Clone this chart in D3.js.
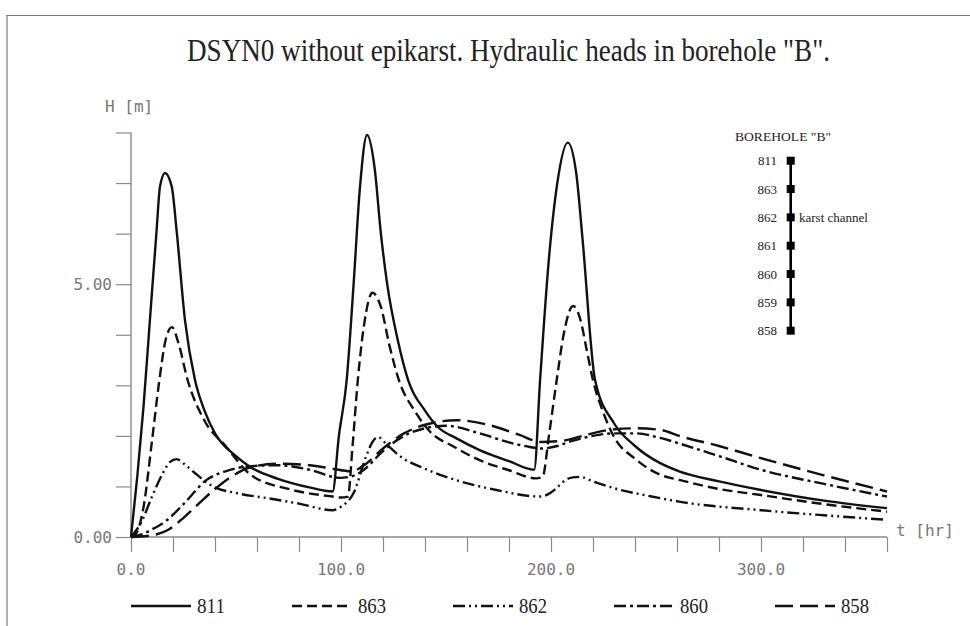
<!DOCTYPE html>
<html>
<head>
<meta charset="utf-8">
<script src="https://cdn.jsdelivr.net/npm/d3@7/dist/d3.min.js"></script>
<style>
  html, body { margin: 0; padding: 0; background: #fff; }
  svg { display: block; }
</style>
</head>
<body>
<svg id="chart" width="970" height="626"></svg>
<script>
// ---------- DATA ----------
const title = 'DSYN0 without epikarst. Hydraulic heads in borehole "B".';
const seriesNames = ["811", "863", "862", "860", "858"];

const t811 = [0, 3, 6, 9, 12.2, 13.8, 16.2, 19.4, 21.7, 25.7, 30.5, 35, 40, 50, 57, 70, 85, 96,
              99, 102.7, 106, 109, 112.4, 116, 119, 122, 127, 132, 140, 146, 155, 166, 180, 192,
              194.8, 199, 203, 208, 212, 215, 221, 230, 240, 252, 261, 280, 300, 330, 360];
const h811 = [0, 1.2, 2.6, 4.29, 6.07, 6.93, 7.2, 6.93, 6.07, 4.29, 3.1, 2.5, 2.05, 1.6, 1.38, 1.15, 0.98, 0.9,
              2.0, 3.1, 5.0, 6.9, 7.95, 7.3, 6.0, 5.0, 3.9, 3.1, 2.5, 2.18, 1.95, 1.72, 1.5, 1.33,
              3.1, 5.5, 7.0, 7.8, 7.2, 5.9, 3.1, 2.25, 1.8, 1.46, 1.3, 1.1, 0.93, 0.72, 0.57];

const t863 = [0, 2, 6, 10, 13.5, 16.5, 19.5, 22.5, 27, 35, 45, 57, 75, 96, 100, 103.3, 105.5, 108,
              111, 115, 119, 123, 128, 135, 142, 154, 166, 180, 193, 196, 199, 202.7, 206, 210.5,
              214, 217, 220, 225, 230, 240, 252, 261, 280, 300, 330, 360];
const h863 = [0, 0.04, 0.6, 1.9, 3.1, 3.9, 4.15, 3.85, 3.1, 2.3, 1.8, 1.23, 0.95, 0.8, 0.78, 0.8, 1.8, 3.1,
              4.2, 4.83, 4.55, 3.8, 3.05, 2.5, 2.1, 1.78, 1.52, 1.32, 1.16, 1.19, 2.0, 3.1, 4.0, 4.57,
              4.3, 3.7, 3.1, 2.45, 1.98, 1.55, 1.23, 1.13, 0.95, 0.83, 0.65, 0.5];

const t862 = [0, 5, 10, 15, 18.5, 21.7, 26, 30, 39, 50, 64.6, 80, 96, 100, 106, 112, 115, 117.5,
              122, 128, 140, 150, 174, 194.8, 200, 204, 207, 210.5, 213.8, 220, 229.7, 252, 261, 300, 330, 360];
const h862 = [0, 0.3, 0.8, 1.25, 1.48, 1.54, 1.42, 1.28, 1.0, 0.87, 0.77, 0.66, 0.53, 0.6, 0.87, 1.6, 1.88, 1.98,
              1.82, 1.6, 1.35, 1.19, 0.93, 0.8, 0.88, 1.02, 1.13, 1.18, 1.19, 1.1, 0.97, 0.77, 0.7, 0.53, 0.43, 0.34];

const t860 = [0, 5, 10, 17, 25, 36, 45, 57, 70, 85, 99.5, 105, 110, 120, 130, 140, 150, 166,
              180, 190, 195, 203, 210, 220, 230, 240, 252, 261, 280, 300, 330, 360];
const h860 = [0, 0.05, 0.15, 0.33, 0.65, 1.13, 1.3, 1.4, 1.42, 1.33, 1.17, 1.2, 1.3, 1.7, 2.0, 2.15, 2.2, 2.05,
              1.87, 1.78, 1.75, 1.8, 1.9, 2.0, 2.05, 2.05, 1.96, 1.85, 1.6, 1.33, 1.05, 0.8];

const t858 = [0, 8, 12, 18, 25, 32, 40, 48, 57, 70, 85, 96, 105, 112, 120, 130, 140, 155,
              170, 185, 195, 205, 215, 228, 240, 252, 261, 280, 300, 330, 360];
const h858 = [0, 0.02, 0.05, 0.15, 0.38, 0.65, 0.95, 1.2, 1.38, 1.45, 1.42, 1.35, 1.3, 1.45, 1.75, 2.05, 2.22, 2.31,
              2.22, 2.02, 1.88, 1.9, 2.0, 2.12, 2.15, 2.12, 2.0, 1.8, 1.56, 1.22, 0.9];

const xTicks = d3.range(0, 361, 20);
const xTickLabels = [0, 100, 200, 300];
const yTicks = d3.range(0, 9, 1);
const yTickLabels = [0, 5];

const boreholeNodes = ["811", "863", "862", "861", "860", "859", "858"];
const karstNode = "862";

// ---------- STYLES ----------
const dashes = {
  "811": null,
  "863": "10,5",
  "862": "12,4,2,4,2,4",
  "860": "12,4,3,4",
  "858": "18,7"
};

const svg = d3.select("#chart");
const axisColor = "#8a8a8a";
const labelColor = "#777";

// frame
svg.append("path")
  .attr("d", "M7,626 L7,15.5 L970,15.5")
  .attr("fill", "none").attr("stroke", "#777").attr("stroke-width", 1.2);

const x = d3.scaleLinear().domain([0, 360]).range([131, 887]);
const y = d3.scaleLinear().domain([0, 8]).range([537, 132.5]);

// title
svg.append("text")
  .attr("x", 187).attr("y", 61)
  .attr("textLength", 643).attr("lengthAdjust", "spacingAndGlyphs")
  .attr("font-family", "Liberation Serif, Times New Roman, serif")
  .attr("font-size", 31.5).attr("fill", "#222")
  .text(title);

// axes
const xAxis = d3.axisBottom(x).tickValues(xTicks).tickSize(15).tickFormat("");
const gx = svg.append("g").attr("transform", "translate(0,537)").call(xAxis);
gx.select(".domain").attr("stroke", axisColor).attr("stroke-width", 1.4).attr("d", `M${x(0)},0H${x(360)}`);
gx.selectAll(".tick line").attr("stroke", axisColor).attr("stroke-width", 1.2);

const yAxis = d3.axisLeft(y).tickValues(yTicks).tickSize(15).tickFormat("");
const gy = svg.append("g").attr("transform", "translate(131,0)").call(yAxis);
gy.select(".domain").attr("stroke", axisColor).attr("stroke-width", 1.4).attr("d", `M0,${y(0)}V${y(8)}`);
gy.selectAll(".tick line").attr("stroke", axisColor).attr("stroke-width", 1.2);

const mono = "DejaVu Sans Mono, monospace";
svg.append("g").selectAll("text").data(xTickLabels).join("text")
  .attr("x", d => x(d)).attr("y", 575)
  .attr("text-anchor", "middle")
  .attr("font-family", mono).attr("font-size", 16).attr("fill", labelColor)
  .text(d => d3.format(".1f")(d));

svg.append("g").selectAll("text").data(yTickLabels).join("text")
  .attr("x", 112).attr("y", d => y(d) + 6)
  .attr("text-anchor", "end")
  .attr("font-family", mono).attr("font-size", 16).attr("fill", labelColor)
  .text(d => d3.format(".2f")(d));

svg.append("text").attr("x", 105).attr("y", 112)
  .attr("font-family", mono).attr("font-size", 16).attr("fill", labelColor)
  .text("H [m]");
svg.append("text").attr("x", 896).attr("y", 536)
  .attr("font-family", mono).attr("font-size", 16).attr("fill", labelColor)
  .text("t [hr]");

// series
const seriesData = {
  "811": d3.zip(t811, h811),
  "863": d3.zip(t863, h863),
  "862": d3.zip(t862, h862),
  "860": d3.zip(t860, h860),
  "858": d3.zip(t858, h858)
};

const line = d3.line().x(d => x(d[0])).y(d => y(d[1])).curve(d3.curveMonotoneX);

const gLines = svg.append("g");
seriesNames.forEach(name => {
  gLines.append("path")
    .datum(seriesData[name])
    .attr("d", line)
    .attr("fill", "none")
    .attr("stroke", "#111")
    .attr("stroke-width", 2.4)
    .attr("stroke-dasharray", dashes[name]);
});

// legend
const legX = d3.scalePoint().domain(seriesNames).range([131, 775]);
const leg = svg.append("g").selectAll("g").data(seriesNames).join("g")
  .attr("transform", d => `translate(${legX(d)},606)`);
leg.append("line").attr("x1", 0).attr("x2", 60).attr("y1", 0).attr("y2", 0)
  .attr("stroke", "#111").attr("stroke-width", 2.6)
  .attr("stroke-dasharray", d => dashes[d]);
leg.append("text").attr("x", 66).attr("y", 7)
  .attr("font-family", "Liberation Serif, Times New Roman, serif")
  .attr("font-size", 21).attr("fill", "#222")
  .attr("textLength", 28).attr("lengthAdjust", "spacingAndGlyphs")
  .text(d => d);

// borehole diagram
const by = d3.scalePoint().domain(boreholeNodes).range([160.7, 330.7]);
const bx = 790.7;
const serif = "Liberation Serif, Times New Roman, serif";
svg.append("text").attr("x", 735).attr("y", 141)
  .attr("font-family", serif).attr("font-size", 13).attr("fill", "#222")
  .attr("textLength", 96).attr("lengthAdjust", "spacingAndGlyphs")
  .text('BOREHOLE "B"');
svg.append("line").attr("x1", bx).attr("x2", bx)
  .attr("y1", by(boreholeNodes[0])).attr("y2", by(boreholeNodes[boreholeNodes.length - 1]))
  .attr("stroke", "#000").attr("stroke-width", 2.6);
svg.append("g").selectAll("rect").data(boreholeNodes).join("rect")
  .attr("x", bx - 4).attr("y", d => by(d) - 4).attr("width", 8).attr("height", 8)
  .attr("fill", "#000");
svg.append("g").selectAll("text").data(boreholeNodes).join("text")
  .attr("x", 777).attr("y", d => by(d) + 4.5)
  .attr("text-anchor", "end")
  .attr("font-family", serif).attr("font-size", 13).attr("fill", "#222")
  .text(d => d);
svg.append("text").attr("x", 799).attr("y", by(karstNode) + 4.5)
  .attr("font-family", serif).attr("font-size", 13).attr("fill", "#222")
  .text("karst channel");
</script>
</body>
</html>
